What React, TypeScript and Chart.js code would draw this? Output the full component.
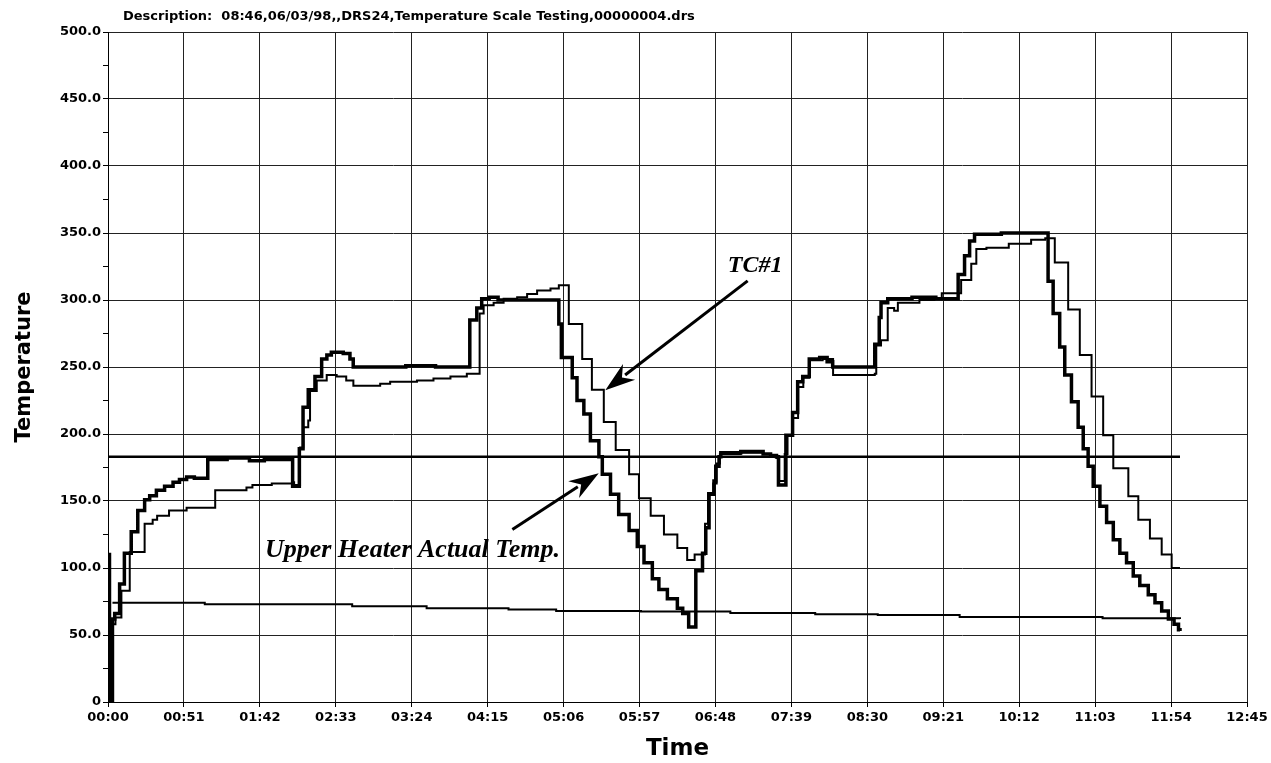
import React, { useEffect, useRef } from "react";
import { Chart, registerables } from "chart.js";

Chart.register(...registerables);

// ---------- DATA (time in minutes since 00:00, temperature) ----------
const heaterTimes = [
  0, 1, 3, 4.5, 7.8, 11, 15.6, 20, 24.6, 28, 32.5, 38, 43.7, 48, 52.8, 58, 67, 80, 95, 105,
  124, 128.5, 131, 134.5, 139, 143.5, 147, 150, 158, 162.5, 164.7, 200, 220,
  243, 247.7, 251, 256, 262, 302.8, 304.5, 311.8, 315, 319.6, 324, 329.7, 332, 337.5, 343,
  350, 355.5, 360, 365.6, 370, 375.7, 382.4, 386, 390, 394.8, 399.3, 401.5, 403.7, 407,
  408.2, 410.4, 411.6, 425, 440, 445, 449, 450.3, 455.3, 459.8, 463.2, 466.6, 471, 478,
  483, 486.7, 515, 518, 519.2, 523.7, 540, 556, 571, 575.3, 578.7, 582, 600, 631.4,
  634.8, 639.2, 642.6, 647.1, 651.6, 655, 658.3, 661.7, 666.2, 670.7, 675.2, 679.6,
  684.1, 688.6, 693, 698.7, 703.2, 707.7, 712.2, 716, 719, 720,
];
const heaterTemps = [
  110, 0, 62, 66, 88, 111, 127, 143, 151, 154, 158, 161, 164, 166, 168, 167, 181, 182, 180, 181,
  161, 189, 220, 233, 243, 256, 259, 261, 260, 256, 250, 251, 250,
  285, 294, 301, 302, 300, 282, 257, 242, 225, 215, 195, 183, 170, 155, 140,
  128, 116, 104, 92, 84, 77, 70, 66, 56, 98, 111, 130, 155, 165,
  176, 183, 186, 187, 185, 184, 183, 162, 199, 216, 239, 243, 256, 257,
  254, 250, 267, 287, 298, 301, 302, 301, 319, 333, 344, 349, 350, 314,
  290, 265, 244, 224, 205, 189, 176, 161, 146, 134, 121, 111,
  104, 94, 87, 80, 74, 68, 62, 58, 54, 53,
];

const tc1Times = [
  0, 1.2, 3, 5, 9, 14.6, 24.6, 30, 33, 41, 52.8, 72, 93, 97, 110, 123.6, 125,
  129, 131.2, 134.5, 135.7, 140.2, 146.9, 153.6, 160, 164.8, 182.8, 189.5, 207.5, 218.6, 230, 241,
  249.6, 252.3, 259, 265.7, 274.8, 281.5, 288.2, 297.2, 302.8, 309.5, 318.5, 325, 333, 341,
  350, 356.6, 364.5, 373.4, 382.4, 389, 394, 401, 403, 406.5, 408.8, 411, 425, 440, 445, 449,
  450.8, 454.5, 456.4, 460, 463.5, 467, 471, 480, 487, 500, 515, 516, 519.2, 523.7, 528,
  530.5, 545, 555, 560, 573, 579.8, 583.2, 590, 605, 620, 629.5, 635.9, 644.9, 652.7,
  660.6, 668.4, 675.2, 685.3, 692, 699.8, 707.7, 714.4, 720,
];
const tc1Temps = [
  108, 0, 58, 63, 83, 112, 133, 136, 139, 143, 145, 158, 160, 162, 163, 164, 162,
  190, 205, 210, 232, 240, 244, 243, 240, 236, 237.5, 239, 240, 241.5, 243, 245,
  290, 296, 298, 301, 302, 304.5, 307, 308.5, 311, 282, 256, 233, 209, 188,
  170, 152, 139, 125, 115, 106, 110, 133, 156, 163, 178, 185, 186, 185, 184, 182,
  165, 185, 199, 212, 235, 242, 255, 256, 244, 244, 245, 266, 270, 294, 292,
  298, 300, 301, 305, 315, 327, 338, 339, 342, 345, 346, 328, 293, 259,
  228, 199, 174.5, 153.5, 136, 122, 110, 100, 100,
];

const setpointTimes = [0, 720];
const setpointTemps = [183, 183];

const ambientTimes = [3, 65, 164, 214, 269, 301, 358, 418, 475, 517, 572, 668, 720];
const ambientTemps = [74, 73, 71.5, 70, 69, 68, 67.5, 66.5, 65.5, 65, 63.5, 62.5, 62];

// axis ranges / ticks
const timeMin = 0;
const timeMax = 765;
const timeStep = 51;
const tempMin = 0;
const tempMax = 500;
const tempStep = 25;

const titleText =
  "Description:  08:46,06/03/98,,DRS24,Temperature Scale Testing,00000004.drs";
const xTitle = "Time";
const yTitle = "Temperature";

// annotations in data coordinates
const tcLabel = { text: "TC#1", t: 434.6, v: 321 };
const tcArrow = { fromT: 429.6, fromV: 314.3, toT: 334, toV: 232.7 };
const heaterLabel = { text: "Upper Heater Actual Temp.", t: 105.4, v: 108 };
const heaterArrow = { fromT: 271.6, fromV: 128.7, toT: 329.6, toV: 170.8 };

const toPoints = (ts: number[], vs: number[]) => ts.map((t, i) => ({ x: t, y: vs[i] }));

const fmtTime = (m: number) => {
  const h = Math.floor(m / 60);
  const mm = Math.round(m - h * 60);
  return String(h).padStart(2, "0") + ":" + String(mm).padStart(2, "0");
};

const drawArrow = (ctx: CanvasRenderingContext2D, x1: number, y1: number, x2: number, y2: number) => {
  const ang = Math.atan2(y2 - y1, x2 - x1);
  const headLen = 30;
  const headW = 10;
  const bx = x2 - headLen * Math.cos(ang);
  const by = y2 - headLen * Math.sin(ang);
  ctx.beginPath();
  ctx.moveTo(x1, y1);
  ctx.lineTo(bx + 5 * Math.cos(ang), by + 5 * Math.sin(ang));
  ctx.lineWidth = 3;
  ctx.strokeStyle = "#000";
  ctx.stroke();
  const nx = -Math.sin(ang);
  const ny = Math.cos(ang);
  const nox = x2 - headLen * 0.7 * Math.cos(ang);
  const noy = y2 - headLen * 0.7 * Math.sin(ang);
  ctx.beginPath();
  ctx.moveTo(x2, y2);
  ctx.lineTo(bx + nx * headW, by + ny * headW);
  ctx.lineTo(nox, noy);
  ctx.lineTo(bx - nx * headW, by - ny * headW);
  ctx.closePath();
  ctx.fillStyle = "#000";
  ctx.fill();
};

const overlayPlugin = {
  id: "overlay",
  afterDraw(chart: any) {
    const { ctx, chartArea, scales } = chart;
    const x = scales.x;
    const y = scales.y;
    ctx.save();
    ctx.fillStyle = "#000";
    // chart title
    ctx.font = 'bold 13px "DejaVu Sans"';
    ctx.textAlign = "left";
    ctx.textBaseline = "alphabetic";
    ctx.fillText(titleText, chartArea.left + 15, 20);
    // x axis title
    ctx.font = 'bold 23px "DejaVu Sans"';
    ctx.textAlign = "center";
    ctx.fillText(xTitle, (chartArea.left + chartArea.right) / 2, 755);
    // y axis title
    ctx.save();
    ctx.translate(30, (chartArea.top + chartArea.bottom) / 2);
    ctx.rotate(-Math.PI / 2);
    ctx.font = 'bold 21px "DejaVu Sans"';
    ctx.textAlign = "center";
    ctx.fillText(yTitle, 0, 0);
    ctx.restore();
    // annotations
    ctx.font = 'italic bold 24px "Liberation Serif"';
    ctx.textAlign = "center";
    ctx.fillText(tcLabel.text, x.getPixelForValue(tcLabel.t), y.getPixelForValue(tcLabel.v));
    ctx.font = 'italic bold 26px "Liberation Serif"';
    ctx.textAlign = "left";
    ctx.fillText(heaterLabel.text, x.getPixelForValue(heaterLabel.t), y.getPixelForValue(heaterLabel.v));
    drawArrow(
      ctx,
      x.getPixelForValue(tcArrow.fromT),
      y.getPixelForValue(tcArrow.fromV),
      x.getPixelForValue(tcArrow.toT),
      y.getPixelForValue(tcArrow.toV)
    );
    drawArrow(
      ctx,
      x.getPixelForValue(heaterArrow.fromT),
      y.getPixelForValue(heaterArrow.fromV),
      x.getPixelForValue(heaterArrow.toT),
      y.getPixelForValue(heaterArrow.toV)
    );
    ctx.restore();
  },
};

export default function App() {
  const ref = useRef<HTMLCanvasElement | null>(null);

  useEffect(() => {
    if (!ref.current) return;
    const tickFont = { family: '"DejaVu Sans"', weight: "bold" as const, size: 13 };
    const chart = new Chart(ref.current, {
      type: "line",
      data: {
        datasets: [
          {
            label: "Setpoint",
            data: toPoints(setpointTimes, setpointTemps),
            borderColor: "#000",
            borderWidth: 2.5,
            pointRadius: 0,
          },
          {
            label: "Ambient",
            data: toPoints(ambientTimes, ambientTemps),
            borderColor: "#000",
            borderWidth: 2,
            pointRadius: 0,
            stepped: true,
          },
          {
            label: "TC#1",
            data: toPoints(tc1Times, tc1Temps),
            borderColor: "#000",
            borderWidth: 2,
            pointRadius: 0,
            stepped: true,
          },
          {
            label: "Upper Heater Actual Temp.",
            data: toPoints(heaterTimes, heaterTemps),
            borderColor: "#000",
            borderWidth: 3.5,
            pointRadius: 0,
            stepped: true,
          },
        ],
      },
      options: {
        animation: false,
        responsive: false,
        devicePixelRatio: 1,
        parsing: true,
        layout: { padding: { left: 0, top: 32, right: 24, bottom: 0 } },
        plugins: {
          legend: { display: false },
          tooltip: { enabled: false },
          title: { display: false },
        },
        scales: {
          x: {
            type: "linear",
            min: timeMin,
            max: timeMax,
            afterFit: (s: any) => {
              s.height = 61;
            },
            ticks: {
              stepSize: timeStep,
              autoSkip: false,
              maxRotation: 0,
              padding: 3,
              color: "#000",
              font: tickFont,
              callback: (v: any) => fmtTime(Number(v)),
            },
            grid: { color: "#222", lineWidth: 1, tickLength: 5, tickColor: "#000" },
            border: { display: true, color: "#000", width: 1 },
          },
          y: {
            type: "linear",
            min: tempMin,
            max: tempMax,
            afterFit: (s: any) => {
              s.width = 108;
            },
            ticks: {
              stepSize: tempStep,
              autoSkip: false,
              padding: 2,
              color: "#000",
              font: tickFont,
              callback: (v: any) => {
                const n = Number(v);
                if (n % 50 !== 0) return "";
                return n === 0 ? "0" : n.toFixed(1);
              },
            },
            grid: {
              color: (c: any) => (c.tick && c.tick.value % 50 === 0 ? "#222" : "rgba(0,0,0,0)"),
              lineWidth: 1,
              tickLength: 5,
              tickColor: "#000",
            },
            border: { display: true, color: "#000", width: 1 },
          },
        },
      },
      plugins: [overlayPlugin],
    });
    return () => chart.destroy();
  }, []);

  return (
    <div style={{ position: "absolute", left: 0, top: 0, width: 1271, height: 763, background: "#fff" }}>
      <canvas ref={ref} width={1271} height={763} style={{ width: 1271, height: 763, display: "block" }} />
    </div>
  );
}
